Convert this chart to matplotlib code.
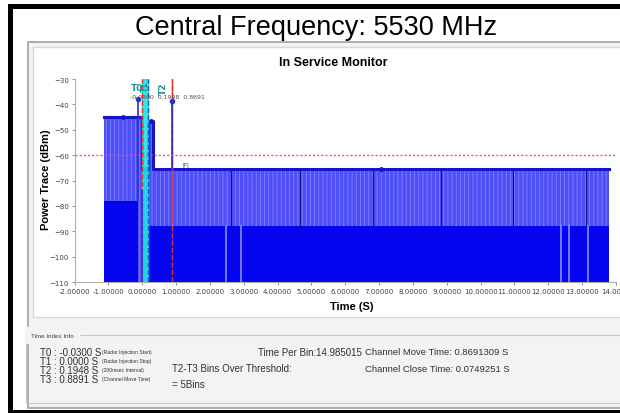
import matplotlib
matplotlib.use("Agg")
import matplotlib.pyplot as plt
from matplotlib.patches import Rectangle
import numpy as np

# ---- data ----
# upper (peak) trace, piecewise levels in dBm
peak_edges = [-1.12, 0.00, 0.18, 0.32, 13.78]
peak_vals = [-44.8, -65.3, -46.5, -65.3]
# lower (average) trace
low_edges = [-1.12, -0.12, 0.18, 13.78]
low_vals = [-78.0, -110.0, -88.0]
# bins where the lower trace drops out
gap_times = [2.49, 2.93, 12.38, 12.61, 13.17]
# dark separator lines inside the upper band
sep_times = [2.63, 4.67, 6.83, 8.84, 10.97, 13.12]
threshold = -60
T = [-0.0300, 0.0000, 0.1948, 0.8891]
spike_t = [-0.12, 0.889]
spike_v = [-38.0, -38.5]
xticks = list(range(-2, 15))
xlabels = ["-2.00000", "-1.00000", "0.00000", "1.00000", "2.00000", "3.00000",
           "4.00000", "5.00000", "6.00000", "7.00000", "8.00000", "9.00000",
           "10.00000", "11.00000", "12.00000", "13.00000", "14.0000"]
yticks = [-30, -40, -50, -60, -70, -80, -90, -100, -110]

W, H = 620, 414
fig = plt.figure(figsize=(6.2, 4.14), dpi=100)
fig.patch.set_facecolor("white")


def box(x0, y0, x1, y1, **kw):
    r = Rectangle((x0 / W, 1 - y1 / H), (x1 - x0) / W, (y1 - y0) / H,
                  transform=fig.transFigure, **kw)
    fig.patches.append(r)
    return r


def ftext(x, y, s, **kw):
    fig.text(x / W, 1 - y / H, s, **kw)


# frame + panels
box(8, 5, 620, 10, fc="black", ec="none", zorder=-2)
box(8, 5, 13, 414, fc="black", ec="none", zorder=-2)
box(8, 411, 620, 414, fc="black", ec="none", zorder=-2)
box(27.5, 42.5, 621, 409, fc="#f3f3f3", ec="#a0a0a0", lw=1.2, zorder=-2)
box(32.5, 47.5, 621, 318, fc="white", ec="#d8d8d8", lw=1, zorder=-1)
box(25.5, 336, 621, 404, fc="none", ec="#c8c8c8", lw=0.8, zorder=-1)

ftext(316, 28, "Central Frequency: 5530 MHz", fontsize=19.5,
      family="Liberation Sans", ha="center", va="center")

ax = fig.add_axes([74.5 / W, 1 - 283 / H, (616 - 74.5) / W, (283 - 80) / H])
ax.set_xlim(-2, 14)
ax.set_ylim(-110, -30)

plt.rcParams["hatch.linewidth"] = 0.6
pe = np.array(peak_edges)
pv = np.array(peak_vals + [peak_vals[-1]])
le = np.array(low_edges)
lv = np.array(low_vals + [low_vals[-1]])

# upper band (light blue with bin stripes)
ax.fill_between(pe, -110, pv, step="post", facecolor="#4f4ff8",
                edgecolor="#8080ff", hatch="||||", lw=0, zorder=2)
# lower band (solid blue)
ax.fill_between(le, -110, lv, step="post", facecolor="#0505f0",
                edgecolor="none", lw=0, zorder=3)
for g in gap_times:
    ax.plot([g, g], [-110, -88], color="#8a8aff", lw=1.2, zorder=4)
for s in sep_times:
    ax.plot([s, s], [-88, -65.3], color="#10107a", lw=0.8, zorder=4)

# peak trace
ax.step(pe, pv, where="post", color="#1515c8", lw=2.2, zorder=5)
ax.plot(pe[:-1] + np.diff(pe) / 2, peak_vals, "o", color="#1515c8", ms=2.5, zorder=5)

# marker band / lines
ax.axvspan(T[1], 0.18, color="#20e0e8", zorder=6, alpha=0.9)
ax.axvline(T[2] - 0.015, color="#1060c0", ls="--", lw=1, zorder=7)
ax.axvline(T[1], color="#e03030", ls="--", lw=1, zorder=7)
ax.plot([T[3], T[3]], [-110, -30], color="#e03030", ls="--", lw=1, zorder=7)
ax.plot([T[3], T[3]], [-65, -30], color="#e03030", lw=1, zorder=7)
for t, v, base in zip(spike_t, spike_v, [-78.0, -65.3]):
    ax.plot([t, t], [base, v], color="#3030d0", lw=1.2, zorder=8)
    ax.plot([t], [v], "o", color="#3030d0", ms=3, zorder=8)
ax.plot([-0.02, -0.02], [-74, -110], color="#3030d0", lw=1.2, zorder=8)

ax.axhline(threshold, color="#ff5050", ls=(0, (1.5, 1.5)), lw=1, zorder=9)

ax.text(-0.15, -33.5, "T0", color="#209090", fontsize=6.5, fontweight="bold",
        ha="center", va="center", zorder=10)
ax.text(0.08, -32.5, "T1", color="#209090", fontsize=5.5, fontweight="bold",
        ha="center", va="center", zorder=10, rotation=90)
ax.text(0.62, -33.5, "T2", color="#209090", fontsize=6.5, fontweight="bold",
        rotation=90, ha="center", va="center", zorder=10)
ax.text(-0.35, -37.0, "-0.0300  0.1948  0.8691", color="#505050", fontsize=4.5,
        ha="left", va="center", zorder=10)
ax.text(1.2, -64.0, "[P]", color="#404040", fontsize=3.5, zorder=10)

ax.set_xticks(xticks)
ax.set_xticklabels(xlabels)
ax.set_yticks(yticks)
ax.tick_params(labelsize=5, colors="#808080", length=2, width=0.6, pad=2)
for lab in ax.get_xticklabels() + ax.get_yticklabels():
    lab.set_color("#404040")
for sp in ["top", "right"]:
    ax.spines[sp].set_visible(False)
for sp in ["left", "bottom"]:
    ax.spines[sp].set_color("#b0b0b0")
    ax.spines[sp].set_linewidth(0.8)

ftext(333, 63, "In Service Monitor", fontsize=9, fontweight="bold",
      family="Liberation Sans", ha="center", va="center")
ftext(46, 180, "Power Trace (dBm)", fontsize=8, fontweight="bold",
      family="Liberation Sans", ha="center", va="center", rotation=90)
ftext(352, 307, "Time (S)", fontsize=8, fontweight="bold",
      family="Liberation Sans", ha="center", va="center")

# time index info
sans = "Liberation Sans"
ftext(31, 336, "Time Index Info", fontsize=4.5, family=sans, color="#404040",
      va="center", backgroundcolor="#f3f3f3")
rows = ["T0 : -0.0300 S", "T1 : 0.0000 S", "T2 : 0.1948 S", "T3 : 0.8891 S"]
notes = ["(Radar Injection Start)", "(Radar Injection Stop)",
         "(200msec Interval)", "(Channel Move Time)"]
for i, (r, n) in enumerate(zip(rows, notes)):
    y = 353 + 9 * i
    ftext(40, y, r, fontsize=7, family=sans, color="#303030", va="center")
    ftext(102, y, n, fontsize=3.6, family=sans, color="#303030", va="center")
ftext(258, 353, "Time Per Bin:14.985015", fontsize=7, family=sans,
      color="#303030", va="center")
ftext(172, 369, "T2-T3 Bins Over Threshold:", fontsize=7, family=sans,
      color="#303030", va="center")
ftext(172, 385, "= 5Bins", fontsize=7, family=sans, color="#303030", va="center")
ftext(365, 353, "Channel Move Time: 0.8691309 S", fontsize=6.8, family=sans,
      color="#303030", va="center")
ftext(365, 370, "Channel Close Time: 0.0749251 S", fontsize=6.8, family=sans,
      color="#303030", va="center")

fig.savefig("out.png", dpi=100)
